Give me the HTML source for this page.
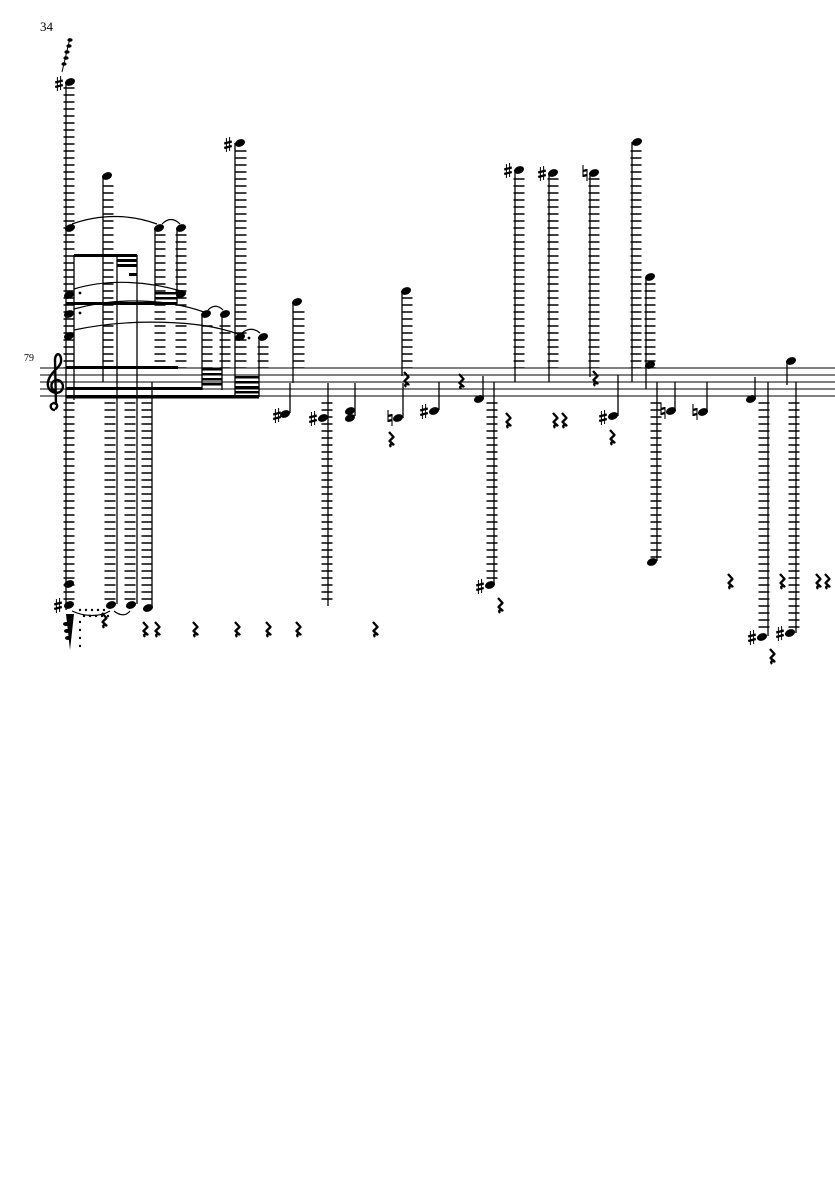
<!DOCTYPE html>
<html><head><meta charset="utf-8"><style>
html,body{margin:0;padding:0;background:#fff;}
svg{display:block;}
text{font-family:"Liberation Serif",serif;}
</style></head><body>
<svg width="835" height="1181" viewBox="0 0 835 1181" xmlns="http://www.w3.org/2000/svg">
<defs>
<ellipse id="h" cx="0" cy="0" rx="5.2" ry="3.6" transform="rotate(-22)" fill="#000"/>
<g id="s" stroke="#000" fill="none"><line x1="-1.6" y1="-7" x2="-1.6" y2="7" stroke-width="1"/><line x1="1.6" y1="-8" x2="1.6" y2="6" stroke-width="1"/><line x1="-3.8" y1="-1.5" x2="3.8" y2="-3.5" stroke-width="2.2"/><line x1="-3.8" y1="3" x2="3.8" y2="1" stroke-width="2.2"/></g>
<g id="n" stroke="#000" fill="none"><line x1="-2" y1="-8" x2="-2" y2="4" stroke-width="1.1"/><line x1="2" y1="-4" x2="2" y2="8" stroke-width="1.1"/><line x1="-2" y1="-2" x2="2" y2="-3" stroke-width="2.2"/><line x1="-2" y1="3" x2="2" y2="2" stroke-width="2.2"/></g>
<path id="r" d="M-2,-7 L2.5,-2 L-1.5,2 L2.5,5.5 C0,4.5 -2,5.5 0,8" fill="none" stroke="#000" stroke-width="2.3" stroke-linejoin="round"/>
</defs>

<text x="40" y="31" font-size="13">34</text>
<text x="24" y="361" font-size="10">79</text>

<g stroke="#000" stroke-width="0.9">
<line x1="40" y1="368" x2="835" y2="368"/><line x1="40" y1="375" x2="835" y2="375"/><line x1="40" y1="382" x2="835" y2="382"/><line x1="40" y1="389" x2="835" y2="389"/><line x1="40" y1="396" x2="835" y2="396"/>
</g>
<path d="M55,410 C50,410 49,404 54,403 C58,403 58,408 55,409 M56,405 L55,360 C55,352 62,352 61,362 C60,368 50,372 48,382 C46,392 58,396 62,390 C66,382 56,376 52,383 C50,388 54,392 56,390" fill="none" stroke="#000" stroke-width="2.4"/>

<g stroke="#000" stroke-width="11" stroke-dasharray="1.4 5.6" fill="none">
<line x1="69" y1="87.3" x2="69" y2="368"/>
<line x1="69" y1="402.3" x2="69" y2="600"/>
<line x1="108" y1="185.3" x2="108" y2="368"/>
<line x1="110" y1="402.3" x2="110" y2="600"/>
<line x1="130" y1="402.3" x2="130" y2="600"/>
<line x1="147" y1="402.3" x2="147" y2="600"/>
<line x1="160" y1="234.3" x2="160" y2="368"/>
<line x1="181" y1="234.3" x2="181" y2="368"/>
<line x1="207" y1="325.3" x2="207" y2="368"/>
<line x1="225" y1="325.3" x2="225" y2="368"/>
<line x1="241" y1="150.3" x2="241" y2="368"/>
<line x1="263" y1="346.3" x2="263" y2="368"/>
<line x1="299" y1="311.3" x2="299" y2="368"/>
<line x1="327" y1="402.3" x2="327" y2="600"/>
<line x1="407" y1="297.3" x2="407" y2="368"/>
<line x1="492" y1="402.3" x2="492" y2="579"/>
<line x1="519" y1="178.3" x2="519" y2="368"/>
<line x1="553" y1="178.3" x2="553" y2="368"/>
<line x1="594" y1="178.3" x2="594" y2="368"/>
<line x1="636" y1="150.3" x2="636" y2="368"/>
<line x1="650" y1="283.3" x2="650" y2="368"/>
<line x1="656" y1="402.3" x2="656" y2="558"/>
<line x1="764" y1="402.3" x2="764" y2="628"/>
<line x1="794" y1="402.3" x2="794" y2="628"/>
</g>

<g stroke="#000" stroke-width="1.3">
<line x1="66" y1="82" x2="66" y2="610"/>
<line x1="74" y1="255" x2="74" y2="400"/>
<line x1="103" y1="176" x2="103" y2="382"/>
<line x1="117" y1="255" x2="117" y2="604"/>
<line x1="137" y1="255" x2="137" y2="604"/>
<line x1="152" y1="382" x2="152" y2="607"/>
<line x1="155" y1="228" x2="155" y2="304"/>
<line x1="177" y1="228" x2="177" y2="304"/>
<line x1="202" y1="314" x2="202" y2="390"/>
<line x1="222" y1="314" x2="222" y2="390"/>
<line x1="235" y1="143" x2="235" y2="397"/>
<line x1="259" y1="337" x2="259" y2="397"/>
<line x1="293" y1="302" x2="293" y2="383"/>
<line x1="290" y1="383" x2="290" y2="413"/>
<line x1="328" y1="383" x2="328" y2="606"/>
<line x1="355" y1="383" x2="355" y2="416"/>
<line x1="403" y1="383" x2="403" y2="418"/>
<line x1="402" y1="291" x2="402" y2="376"/>
<line x1="439" y1="382" x2="439" y2="410"/>
<line x1="483" y1="376" x2="483" y2="398"/>
<line x1="494" y1="382" x2="494" y2="585"/>
<line x1="515" y1="170" x2="515" y2="382"/>
<line x1="549" y1="173" x2="549" y2="382"/>
<line x1="590" y1="173" x2="590" y2="377"/>
<line x1="632" y1="142" x2="632" y2="382"/>
<line x1="646" y1="277" x2="646" y2="389"/>
<line x1="618" y1="375" x2="618" y2="416"/>
<line x1="657" y1="382" x2="657" y2="561"/>
<line x1="675" y1="382" x2="675" y2="411"/>
<line x1="707" y1="382" x2="707" y2="411"/>
<line x1="755" y1="377" x2="755" y2="399"/>
<line x1="768" y1="382" x2="768" y2="636"/>
<line x1="787" y1="361" x2="787" y2="385"/>
<line x1="796" y1="382" x2="796" y2="633"/>
</g>

<g fill="#000">
<rect x="74" y="254" width="63" height="3"/>
<rect x="117" y="259" width="20" height="3"/>
<rect x="117" y="264" width="20" height="3"/>
<rect x="129" y="273" width="8" height="3"/>
<rect x="155" y="292" width="22" height="2.5"/>
<rect x="155" y="297" width="22" height="2.5"/>
<rect x="66" y="302" width="111" height="3"/>
<rect x="66" y="366" width="112" height="3"/>
<rect x="66" y="387" width="136" height="3"/>
<rect x="66" y="395" width="193" height="3.5"/>
<rect x="202" y="368" width="20" height="2.5"/>
<rect x="202" y="373" width="20" height="2.5"/>
<rect x="202" y="378" width="20" height="2.5"/>
<rect x="202" y="383" width="20" height="2.5"/>
<rect x="235" y="376" width="24" height="2.5"/>
<rect x="235" y="381" width="24" height="2.5"/>
<rect x="235" y="386" width="24" height="2.5"/>
<rect x="235" y="391" width="24" height="2.5"/>
<path d="M66,614 L74,614 L70,650 Z"/>
<ellipse cx="66" cy="624" rx="3" ry="2"/><ellipse cx="67" cy="631" rx="3" ry="2"/><ellipse cx="68" cy="638" rx="3" ry="2"/>
</g>

<g fill="#000">
<line x1="62" y1="72" x2="70" y2="38" stroke="#000" stroke-width="1"/>
<ellipse cx="66" cy="58" rx="2.6" ry="1.8"/><ellipse cx="67" cy="52" rx="2.6" ry="1.8"/><ellipse cx="69" cy="46" rx="2.6" ry="1.8"/><ellipse cx="70" cy="40" rx="2.6" ry="1.8"/><ellipse cx="64" cy="64" rx="2.6" ry="1.8"/>
</g>

<g>
<use href="#h" x="70" y="82"/><use href="#s" x="59" y="84"/>
<use href="#h" x="70" y="228"/>
<use href="#h" x="69" y="295"/><use href="#h" x="69" y="314"/><use href="#h" x="69" y="336"/>
<use href="#h" x="107" y="176"/>
<use href="#h" x="159" y="228"/><use href="#h" x="181" y="228"/><use href="#h" x="181" y="294"/>
<use href="#h" x="206" y="314"/><use href="#h" x="225" y="314"/>
<use href="#h" x="240" y="143"/><use href="#s" x="228" y="145"/>
<use href="#h" x="240" y="337"/><use href="#h" x="263" y="337"/>
<use href="#h" x="297" y="302"/>
<use href="#h" x="285" y="414"/><use href="#s" x="277" y="416"/>
<use href="#h" x="323" y="418"/><use href="#s" x="313" y="419"/>
<use href="#h" x="350" y="411"/><use href="#h" x="350" y="418"/>
<use href="#h" x="398" y="418"/><use href="#n" x="390" y="418"/>
<use href="#h" x="406" y="291"/>
<use href="#h" x="434" y="411"/><use href="#s" x="424" y="412"/>
<use href="#h" x="479" y="399"/>
<use href="#h" x="490" y="585"/><use href="#s" x="480" y="587"/>
<use href="#h" x="519" y="170"/><use href="#s" x="508" y="171"/>
<use href="#h" x="553" y="173"/><use href="#s" x="542" y="174"/>
<use href="#h" x="594" y="173"/><use href="#n" x="585" y="173"/>
<use href="#h" x="637" y="142"/>
<use href="#h" x="650" y="277"/><use href="#h" x="650" y="365"/>
<use href="#h" x="613" y="416"/><use href="#s" x="603" y="418"/>
<use href="#h" x="652" y="562"/>
<use href="#h" x="671" y="411"/><use href="#n" x="663" y="411"/>
<use href="#h" x="703" y="412"/><use href="#n" x="695" y="412"/>
<use href="#h" x="751" y="399"/>
<use href="#h" x="762" y="637"/><use href="#s" x="752" y="638"/>
<use href="#h" x="791" y="361"/>
<use href="#h" x="790" y="633"/><use href="#s" x="780" y="634"/>
<use href="#h" x="69" y="584"/>
<use href="#h" x="69" y="605"/><use href="#s" x="58" y="606"/>
<use href="#h" x="111" y="605"/><use href="#h" x="131" y="605"/><use href="#h" x="148" y="608"/>
</g>
<g fill="#000"><circle cx="80" cy="293" r="1.4"/><circle cx="80" cy="313" r="1.4"/><circle cx="249" cy="338" r="1.4"/></g>
<g stroke="#000" stroke-width="1.2" fill="none">
<path d="M72,224 C100,214 130,214 157,224"/>
<path d="M162,224 C168,218 174,218 180,224"/>
<path d="M74,289 C110,278 150,282 181,291"/>
<path d="M74,309 C120,296 170,300 204,312"/>
<path d="M208,310 C213,305 218,305 223,310"/>
<path d="M74,330 C130,318 200,320 238,334"/>
<path d="M242,333 C248,328 254,328 260,333"/>
<path d="M72,611 C85,617 100,617 110,611"/>
<path d="M114,611 C120,616 126,616 130,611"/>
</g>
<g fill="#000">
<circle cx="80" cy="610" r="1.2"/><circle cx="86" cy="610" r="1.2"/><circle cx="92" cy="610" r="1.2"/><circle cx="98" cy="610" r="1.2"/><circle cx="104" cy="610" r="1.2"/>
<circle cx="84" cy="616" r="1.2"/><circle cx="90" cy="616" r="1.2"/><circle cx="96" cy="616" r="1.2"/><circle cx="102" cy="616" r="1.2"/><circle cx="108" cy="616" r="1.2"/>
<circle cx="80" cy="622" r="1.2"/><circle cx="80" cy="630" r="1.2"/><circle cx="80" cy="638" r="1.2"/><circle cx="80" cy="646" r="1.2"/>
</g>

<g>
<use href="#r" x="104" y="620"/>
<use href="#r" x="145" y="629"/><use href="#r" x="157" y="629"/>
<use href="#r" x="195" y="629"/><use href="#r" x="237" y="629"/><use href="#r" x="268" y="629"/><use href="#r" x="298" y="629"/>
<use href="#r" x="375" y="629"/>
<use href="#r" x="391" y="439"/>
<use href="#r" x="406" y="379"/>
<use href="#r" x="461" y="381"/>
<use href="#r" x="508" y="420"/>
<use href="#r" x="555" y="420"/><use href="#r" x="564" y="420"/>
<use href="#r" x="595" y="378"/>
<use href="#r" x="612" y="437"/>
<use href="#r" x="500" y="605"/>
<use href="#r" x="730" y="581"/>
<use href="#r" x="782" y="581"/>
<use href="#r" x="818" y="581"/><use href="#r" x="827" y="581"/>
<use href="#r" x="772" y="656"/>
</g>
</svg>
</body></html>
